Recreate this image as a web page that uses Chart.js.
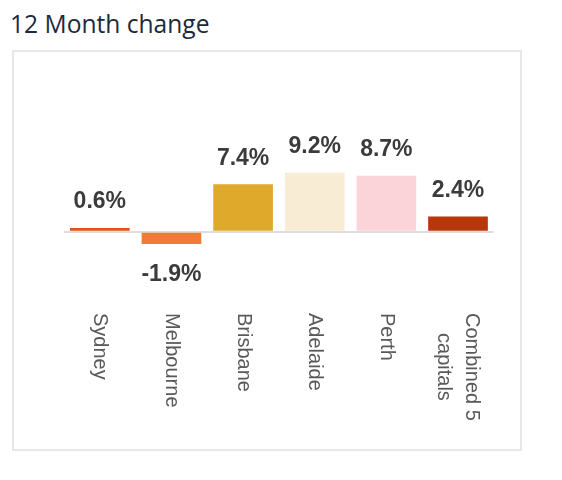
<!DOCTYPE html>
<html lang="en">
<head>
  <meta charset="UTF-8">
  <title>12 Month change</title>
  <script src="https://cdn.jsdelivr.net/npm/chart.js"></script>
  <style>
    body { margin: 0; background: #fff; }
    #title {
      position: absolute; left: 10px; top: 12px; margin: 0;
      font: 400 24.6px/24px "Open Sans", sans-serif; color: #1b2a3c;
    }
    #box {
      position: absolute; left: 12px; top: 50px;
      width: 506px; height: 397px;
      border: 2px solid #e7e7e7;
    }
  </style>
</head>
<body>
  <h1 id="title">12 Month change</h1>
  <div id="box"><canvas id="chart" width="506" height="397"></canvas></div>

  <script>
    const cities = ['Sydney', 'Melbourne', 'Brisbane', 'Adelaide', 'Perth', ['Combined 5', 'capitals']];
    const changes = [0.6, -1.9, 7.4, 9.2, 8.7, 2.4];
    const barColors = ['#e94e1b', '#f07b35', '#dfaa2c', '#f8ecd4', '#fbd4d9', '#b73708'];

    // category axis whose labels read top to bottom (rotated clockwise)
    class DownCategoryScale extends Chart.CategoryScale {
      _computeLabelItems(chartArea) {
        const items = super._computeLabelItems(chartArea);
        const widths = this._getLabelSizes().widths;
        items.forEach((item, i) => {
          const lines = Array.isArray(item.label) ? item.label.length : 1;
          const lh = item.font.lineHeight;
          item.options.rotation = Math.PI / 2;
          item.options.textAlign = 'center';
          item.options.translation[0] += lh / 2 + lines * lh / 2;
          item.options.translation[1] += widths[i] / 2;
        });
        return items;
      }
    }
    DownCategoryScale.id = 'categoryDown';
    DownCategoryScale.defaults = Chart.CategoryScale.defaults;
    Chart.register(DownCategoryScale);

    // values written above / below each bar
    const valueLabels = {
      id: 'valueLabels',
      afterDatasetsDraw(chart) {
        const ctx = chart.ctx;
        const meta = chart.getDatasetMeta(0);
        ctx.save();
        ctx.font = 'bold 23px "Liberation Sans", Arial, sans-serif';
        ctx.fillStyle = '#3b3b3c';
        ctx.textAlign = 'center';
        ctx.textBaseline = 'middle';
        meta.data.forEach((bar, i) => {
          const v = changes[i];
          const y = v >= 0 ? bar.y - 26 : bar.y + 31;
          ctx.fillText(v.toFixed(1) + '%', bar.x, y);
        });
        ctx.restore();
      }
    };

    new Chart(document.getElementById('chart'), {
      type: 'bar',
      data: {
        labels: cities,
        datasets: [{
          data: changes,
          backgroundColor: barColors,
          borderWidth: 0,
          barPercentage: 0.833,
          categoryPercentage: 1
        }]
      },
      options: {
        responsive: false,
        animation: false,
        layout: { padding: { left: 50, right: 24, top: 12.6, bottom: 0 } },
        plugins: { legend: { display: false }, tooltip: { enabled: false } },
        scales: {
          x: {
            type: 'categoryDown',
            grid: { display: false, drawTicks: false },
            border: { display: false },
            ticks: {
              autoSkip: false,
              minRotation: 90,
              maxRotation: 90,
              padding: 4,
              color: '#595959',
              font: { family: '"Liberation Sans", Arial, sans-serif', size: 20, lineHeight: 1.4 }
            },
            afterFit: s => { s.height = 140; }
          },
          y: {
            min: -12,
            max: 26,
            afterBuildTicks: s => { s.ticks = [{ value: 0 }]; },
            ticks: { display: false },
            border: { display: false },
            grid: { drawTicks: false, color: '#dedede', lineWidth: 2 }
          }
        }
      },
      plugins: [valueLabels]
    });
  </script>
</body>
</html>
